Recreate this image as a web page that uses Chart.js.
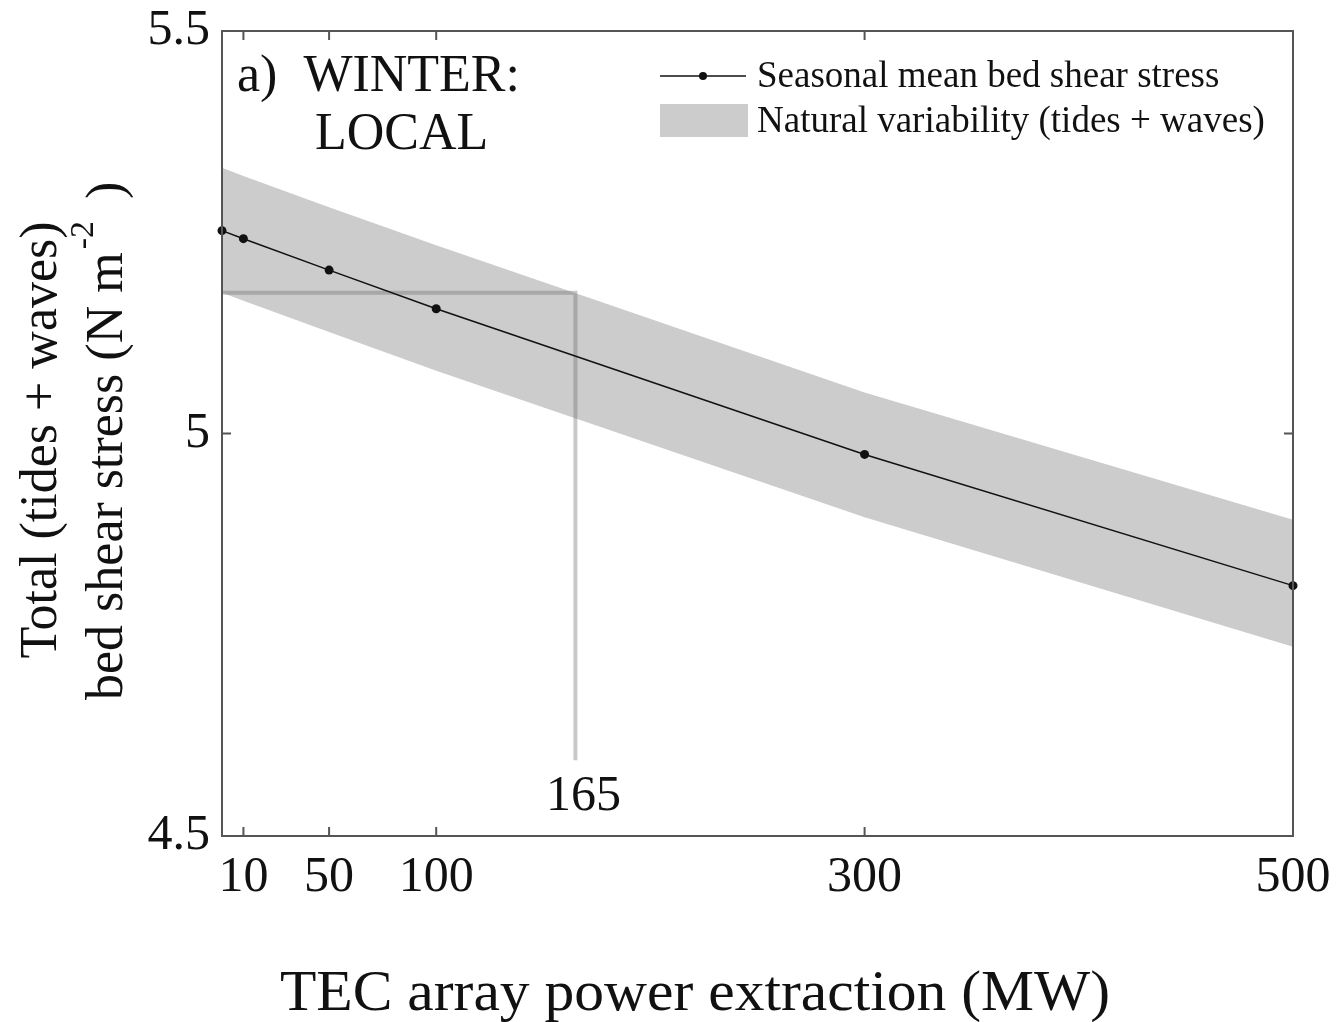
<!DOCTYPE html>
<html>
<head>
<meta charset="utf-8">
<script src="https://cdn.jsdelivr.net/npm/chart.js@4.4.1/dist/chart.umd.min.js"></script>
<style>
  html, body { margin: 0; padding: 0; background: #fff; }
  #wrap { width: 1337px; height: 1022px; }
</style>
</head>
<body>
<div id="wrap"><canvas id="chart" width="1337" height="1022"></canvas></div>
<script>
"use strict";

// values
const powerMW = [0, 10, 50, 100, 300, 500];
const meanStress = [5.252, 5.242, 5.203, 5.155, 4.974, 4.811];
const bandUpper = [5.330, 5.320, 5.281, 5.234, 5.051, 4.893];
const bandLower = [5.175, 5.165, 5.126, 5.078, 4.896, 4.735];
const refX = [0, 165, 165];
const refY = [5.175, 5.175, 4.594];
const xTicks = [10, 50, 100, 300, 500];
const yTicks = [4.5, 5, 5.5];
const yTickLabels = ['4.5', '5', '5.5'];

const SERIF = '"Liberation Serif", "DejaVu Serif", serif';
const toPoints = (xs, ys) => xs.map((x, i) => ({ x: x, y: ys[i] }));

/* draws the boxed frame, inward ticks, titles and the legend. */
const decorations = {
    id: 'decorations',
    afterDatasetsDraw(chart) {
        const { ctx, chartArea: a, scales: { x, y } } = chart;
        ctx.save();

        // frame
        ctx.strokeStyle = '#555';
        ctx.lineWidth = 2;
        ctx.strokeRect(a.left, a.top, a.right - a.left, a.bottom - a.top);

        // inward ticks on all four sides
        const tl = 9;
        ctx.beginPath();
        xTicks.forEach(v => {
            const px = x.getPixelForValue(v);
            ctx.moveTo(px, a.bottom); ctx.lineTo(px, a.bottom - tl);
            ctx.moveTo(px, a.top); ctx.lineTo(px, a.top + tl);
        });
        yTicks.forEach(v => {
            const py = y.getPixelForValue(v);
            ctx.moveTo(a.left, py); ctx.lineTo(a.left + tl, py);
            ctx.moveTo(a.right, py); ctx.lineTo(a.right - tl, py);
        });
        ctx.stroke();

        // "165" marker label
        ctx.fillStyle = '#111';
        ctx.font = '50px ' + SERIF;
        ctx.textAlign = 'center';
        ctx.textBaseline = 'middle';
        ctx.fillText('165', x.getPixelForValue(165) + 8, 797);

        // panel label
        ctx.font = '52px ' + SERIF;
        ctx.textAlign = 'left';
        ctx.fillText('a)  WINTER:', 237, 77);
        ctx.fillText('LOCAL', 315, 135);

        // x axis title
        ctx.save();
        ctx.textAlign = 'center';
        ctx.textBaseline = 'alphabetic';
        ctx.font = '57px ' + SERIF;
        ctx.translate(695, 1010);
        ctx.scale(1.045, 1);
        ctx.fillText('TEC array power extraction (MW)', 0, 0);
        ctx.restore();

        // y axis title (two lines, rotated)
        ctx.save();
        ctx.translate(42, 440);
        ctx.rotate(-Math.PI / 2);
        ctx.textAlign = 'center';
        ctx.font = '52px ' + SERIF;
        ctx.fillText('Total (tides + waves)', 0, 0);
        ctx.restore();

        ctx.save();
        ctx.translate(108, 700);
        ctx.rotate(-Math.PI / 2);
        ctx.textAlign = 'left';
        ctx.font = '52px ' + SERIF;
        const t1 = 'bed shear stress (N m';
        ctx.fillText(t1, 0, 0);
        let w = ctx.measureText(t1).width;
        ctx.font = '34px ' + SERIF;
        ctx.fillText('-2', w + 3, -24);
        w += ctx.measureText('-2').width + 3;
        ctx.font = '52px ' + SERIF;
        ctx.fillText(')', w + 22, 0);
        ctx.restore();

        // legend
        ctx.font = '37px ' + SERIF;
        ctx.textAlign = 'left';
        ctx.strokeStyle = '#111';
        ctx.lineWidth = 1.5;
        ctx.beginPath();
        ctx.moveTo(660, 76); ctx.lineTo(746, 76);
        ctx.stroke();
        ctx.beginPath();
        ctx.arc(703, 76, 4, 0, Math.PI * 2);
        ctx.fill();
        ctx.fillText('Seasonal mean bed shear stress', 757, 77);

        ctx.fillStyle = '#cccccc';
        ctx.fillRect(660, 104, 88, 33);
        ctx.fillStyle = '#111';
        ctx.fillText('Natural variability (tides + waves)', 757, 122);

        ctx.restore();
    }
};

const ctx = document.getElementById('chart').getContext('2d');
new Chart(ctx, {
    type: 'line',
    data: {
        datasets: [
            {
                label: 'band upper',
                data: toPoints(powerMW, bandUpper),
                borderWidth: 0,
                pointRadius: 0,
                backgroundColor: '#cccccc',
                fill: '+1',
                order: 3,
            },
            {
                label: 'band lower',
                data: toPoints(powerMW, bandLower),
                borderWidth: 0,
                pointRadius: 0,
                fill: false,
                order: 3,
            },
            {
                label: 'reference',
                data: toPoints(refX, refY),
                borderColor: 'rgba(100, 100, 100, 0.35)',
                borderWidth: 4,
                pointRadius: 0,
                fill: false,
                order: 2,
            },
            {
                label: 'Seasonal mean bed shear stress',
                data: toPoints(powerMW, meanStress),
                borderColor: '#111',
                borderWidth: 1.5,
                backgroundColor: '#111',
                pointRadius: 4.5,
                pointBorderWidth: 0,
                fill: false,
                order: 1,
            },
        ]
    },
    options: {
        responsive: false,
        animation: false,
        clip: false,
        layout: { padding: { top: 31, right: 44, left: 0, bottom: 0 } },
        plugins: {
            legend: { display: false },
            tooltip: { enabled: false },
        },
        scales: {
            x: {
                type: 'linear',
                min: 0,
                max: 500,
                afterBuildTicks: scale => { scale.ticks = xTicks.map(v => ({ value: v })); },
                afterFit: scale => {
                    scale.height = 186;
                    scale.paddingLeft = 0;
                    scale.paddingRight = 0;
                },
                grid: { display: false },
                border: { display: false },
                ticks: {
                    font: { family: SERIF, size: 50 },
                    color: '#111',
                    padding: 4,
                    maxRotation: 0,
                    autoSkip: false,
                },
            },
            y: {
                type: 'linear',
                min: 4.5,
                max: 5.5,
                afterBuildTicks: scale => { scale.ticks = yTicks.map(v => ({ value: v })); },
                afterFit: scale => {
                    scale.width = 222;
                    scale.paddingTop = 0;
                    scale.paddingBottom = 0;
                },
                grid: { display: false },
                border: { display: false },
                ticks: {
                    font: { family: SERIF, size: 50 },
                    color: '#111',
                    padding: 4,
                    callback: v => yTickLabels[yTicks.indexOf(v)],
                },
            },
        },
    },
    plugins: [decorations],
});
</script>
</body>
</html>
